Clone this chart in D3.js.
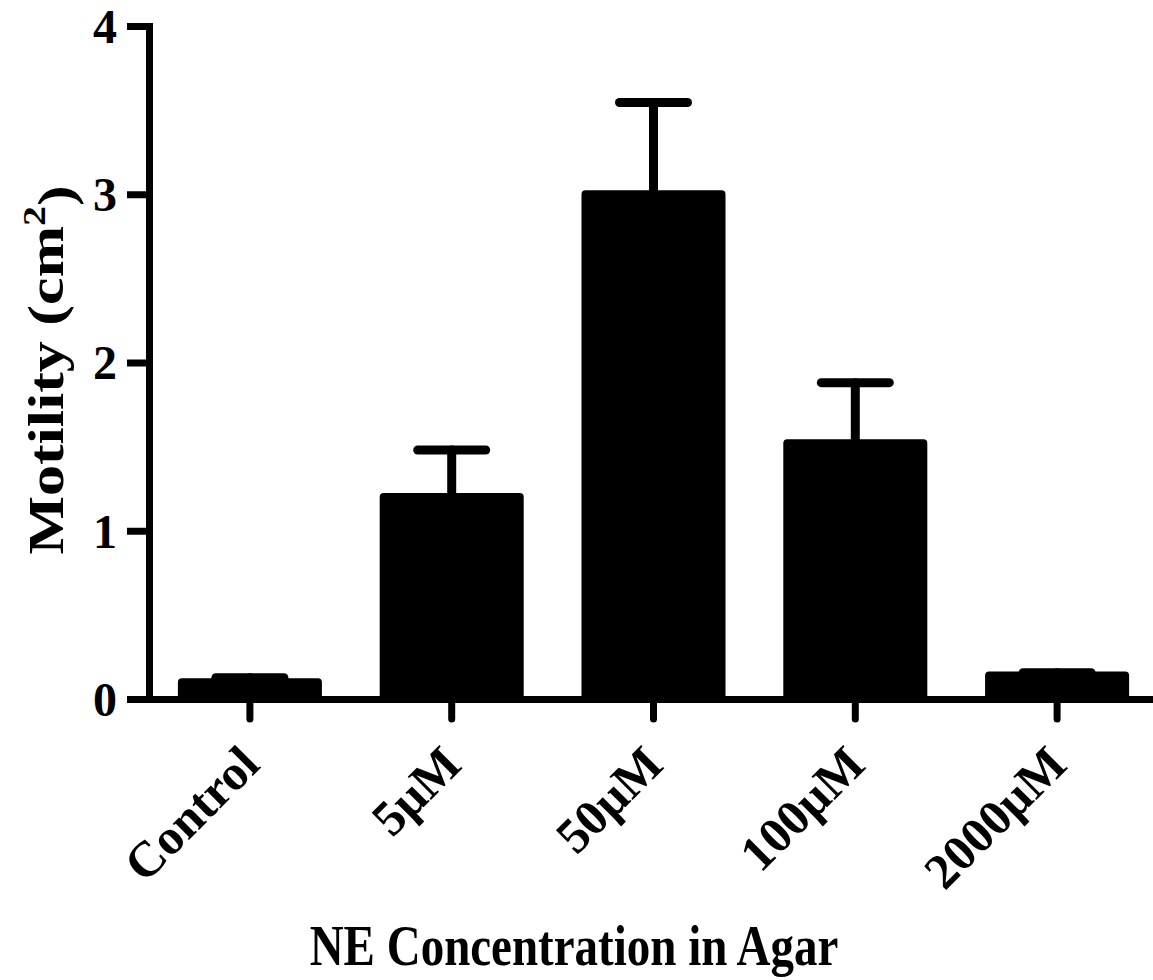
<!DOCTYPE html>
<html>
<head>
<meta charset="utf-8">
<script src="https://cdn.jsdelivr.net/npm/d3@7/dist/d3.min.js"></script>
<style>
  html, body { margin: 0; padding: 0; background: #fff; }
  svg { display: block; }
  text { font-family: "Liberation Serif", "Times New Roman", serif; font-weight: bold; fill: #000; }
</style>
</head>
<body>
<svg id="chart" width="1153" height="980"></svg>
<script>
// Motility by norepinephrine concentration (mean ± SEM)
const categories = ["Control", "5\u00B5M", "50\u00B5M", "100\u00B5M", "2000\u00B5M"];
const means = [0.10, 1.20, 3.00, 1.52, 0.14];
const sems = [0.026, 0.28, 0.545, 0.36, 0.016];
const yTicks = [0, 1, 2, 3, 4];
const yTitle = "Motility (cm";
const xTitle = "NE Concentration in Agar";

const svg = d3.select("#chart");

const y = d3.scaleLinear().domain([0, 4]).range([699, 26]);
const x = d3.scaleBand()
  .domain(categories)
  .range([149, 1158])
  .paddingInner(0.326)
  .paddingOuter(0.163);

const data = categories.map((c, i) => ({ cat: c, mean: means[i], sem: sems[i] }));

// Bars (stroked so that the corners come out slightly rounded)
svg.append("g")
  .selectAll("rect")
  .data(data)
  .join("rect")
  .attr("x", d => x(d.cat))
  .attr("width", x.bandwidth())
  .attr("y", d => y(d.mean))
  .attr("height", d => y(0) - y(d.mean))
  .attr("fill", "#000")
  .attr("stroke", "#000")
  .attr("stroke-width", 8)
  .attr("stroke-linejoin", "round");

// Upper error bars
const capHalf = x.bandwidth() * 0.25;
const err = svg.append("g")
  .attr("stroke", "#000")
  .attr("stroke-width", 9)
  .attr("stroke-linecap", "round");
err.selectAll("line.stem")
  .data(data)
  .join("line")
  .attr("class", "stem")
  .attr("x1", d => x(d.cat) + x.bandwidth() / 2)
  .attr("x2", d => x(d.cat) + x.bandwidth() / 2)
  .attr("y1", d => y(d.mean))
  .attr("y2", d => y(d.mean + d.sem));
err.selectAll("line.cap")
  .data(data)
  .join("line")
  .attr("class", "cap")
  .attr("x1", d => x(d.cat) + x.bandwidth() / 2 - capHalf)
  .attr("x2", d => x(d.cat) + x.bandwidth() / 2 + capHalf)
  .attr("y1", d => y(d.mean + d.sem))
  .attr("y2", d => y(d.mean + d.sem));

// Y axis
const yAxis = svg.append("g")
  .attr("transform", `translate(${x.range()[0]},0)`)
  .call(d3.axisLeft(y).tickValues(yTicks).tickFormat(d3.format("d"))
    .tickSize(22).tickSizeOuter(0).tickPadding(10));
yAxis.select(".domain").attr("stroke", "#000").attr("stroke-width", 7).attr("stroke-linecap", "square");
yAxis.selectAll(".tick line").attr("stroke", "#000").attr("stroke-width", 7);
yAxis.selectAll(".tick text")
  .style("font-family", "'Liberation Serif', serif")
  .style("font-weight", "bold")
  .style("font-size", "48px")
  .attr("dy", "0.34em");

// X axis
const xAxis = svg.append("g")
  .attr("transform", `translate(0,${y(0)})`)
  .call(d3.axisBottom(x).tickSize(20).tickSizeOuter(0).tickFormat(""));
xAxis.select(".domain").attr("stroke", "#000").attr("stroke-width", 7);
xAxis.selectAll(".tick line").attr("stroke", "#000").attr("stroke-width", 7).attr("stroke-linecap", "round");

// Slanted category labels
svg.append("g")
  .selectAll("text")
  .data(categories)
  .join("text")
  .attr("transform", d => `translate(${x(d) + x.bandwidth() / 2 + 12},${y(0) + 68}) rotate(-45)`)
  .attr("text-anchor", "end")
  .style("font-size", "50px")
  .text(d => d);

// Axis titles
const yt = svg.append("text")
  .attr("transform", "translate(63,370) scale(1,1.24) rotate(-90)")
  .attr("text-anchor", "middle")
  .style("font-size", "50px");
yt.append("tspan").text(yTitle);
yt.append("tspan").attr("dy", "-0.55em").style("font-size", "32px").text("2");
yt.append("tspan").attr("dy", "0.55em").text(")");

svg.append("text")
  .attr("transform", "translate(574,965) scale(1,1.2)")
  .attr("text-anchor", "middle")
  .style("font-size", "47px")
  .text(xTitle);
</script>
</body>
</html>
